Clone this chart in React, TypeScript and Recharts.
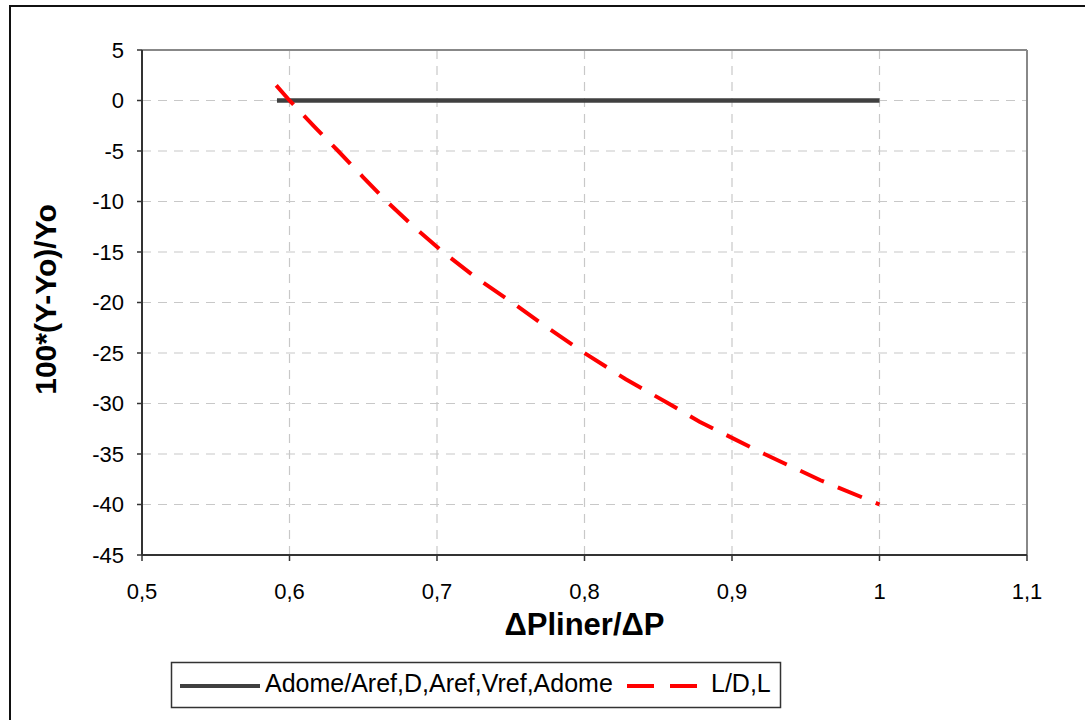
import React from "react";
import { LineChart, Line, XAxis, YAxis, CartesianGrid, ReferenceLine, Label } from "recharts";

const seriesNames = ["Adome/Aref,D,Aref,Vref,Adome", "L/D,L"];
const xTicks = [0.5, 0.6, 0.7, 0.8, 0.9, 1.0, 1.1];
const yTicks = [5, 0, -5, -10, -15, -20, -25, -30, -35, -40, -45];

const blackX = [0.5915, 1.0];
const blackY = [0, 0];

const redX = [0.591, 0.6, 0.617, 0.633, 0.65, 0.666, 0.685, 0.704, 0.727, 0.751, 0.775, 0.8, 0.828, 0.857, 0.878, 0.9, 0.922, 0.96, 1.0];
const redY = [1.5, 0, -2.6, -5, -7.6, -10, -12.6, -15, -17.6, -20, -22.5, -25, -27.6, -30, -31.8, -33.4, -35, -37.6, -40];

const blackData = blackX.map((x, i) => ({ x, y: blackY[i] }));
const redData = redX.map((x, i) => ({ x, y: redY[i] }));

const FONT = "'Liberation Sans', Arial, Helvetica, sans-serif";

const YTitle = (props: any) => {
  const vb = props.viewBox || { x: 0, y: 0, height: 0 };
  const cx = 45;
  const cy = vb.y + vb.height / 2 - 3;
  return (
    <text
      x={cx}
      y={cy}
      transform={`rotate(-90 ${cx} ${cy})`}
      textAnchor="middle"
      dominantBaseline="central"
      fontFamily={FONT}
      fontWeight="bold"
      fontSize={30}
      fill="#000"
    >
      100*(Y-Yo)/Yo
    </text>
  );
};

export default function App() {
  return (
    <div style={{ position: "absolute", left: 0, top: 0, width: 1085, height: 720, overflow: "hidden", background: "#fff", fontFamily: FONT }}>
      <div style={{ position: "absolute", left: 9, top: 5, width: 1100, height: 800, border: "2px solid #111", boxSizing: "border-box" }} />
      <div style={{ position: "absolute", left: 0, top: 0 }}>
        <LineChart width={1085} height={720} margin={{ top: 50, right: 58, bottom: 105, left: 0 }}>
          <CartesianGrid stroke="#c8c8c8" strokeDasharray="9 7" strokeWidth={1.2} />
          <XAxis
            type="number"
            dataKey="x"
            domain={[0.5, 1.1]}
            ticks={xTicks}
            allowDataOverflow
            height={60}
            tickSize={6}
            tickMargin={22}
            tickFormatter={(v: number) => String(Math.round(v * 10) / 10).replace(".", ",")}
            tick={{ fill: "#000", fontSize: 22, fontFamily: FONT }}
            stroke="#333"
            strokeWidth={2}
            tickLine={{ stroke: "#333", strokeWidth: 1.5 }}
          >
            <Label value="ΔPliner/ΔP" position="bottom" offset={-2} style={{ fontFamily: FONT, fontWeight: "bold", fontSize: 31, fill: "#000" }} />
          </XAxis>
          <YAxis
            type="number"
            domain={[-45, 5]}
            ticks={yTicks}
            allowDataOverflow
            width={142}
            tickSize={5}
            tickMargin={13}
            tick={{ fill: "#000", fontSize: 22, fontFamily: FONT }}
            stroke="#333"
            strokeWidth={2}
            tickLine={{ stroke: "#333", strokeWidth: 1.5 }}
          >
            <Label content={<YTitle />} />
          </YAxis>
          <ReferenceLine y={5} stroke="#888" strokeWidth={2} />
          <ReferenceLine x={1.1} stroke="#888" strokeWidth={2} />
          <Line
            data={blackData}
            dataKey="y"
            type="linear"
            stroke="#404040"
            strokeWidth={4.5}
            dot={false}
            isAnimationActive={false}
            name={seriesNames[0]}
          />
          <Line
            data={redData}
            dataKey="y"
            type="linear"
            stroke="#ff0000"
            strokeWidth={4}
            strokeDasharray="26 15"
            dot={false}
            isAnimationActive={false}
            name={seriesNames[1]}
          />
        </LineChart>
      </div>
      <svg width={1085} height={720} style={{ position: "absolute", left: 0, top: 0, pointerEvents: "none" }}>
        <rect x={171.5} y={662.5} width={609} height={45} fill="#fff" stroke="#333" strokeWidth={1.5} />
        <line x1={180} y1={686} x2={260} y2={686} stroke="#404040" strokeWidth={4} />
        <text x={265} y={692} fontFamily={FONT} fontSize={25} fill="#000">{seriesNames[0]}</text>
        <line x1={627} y1={686} x2={698} y2={686} stroke="#ff0000" strokeWidth={4} strokeDasharray="27 16" />
        <text x={711} y={692} fontFamily={FONT} fontSize={25} fill="#000">{seriesNames[1]}</text>
      </svg>
    </div>
  );
}
